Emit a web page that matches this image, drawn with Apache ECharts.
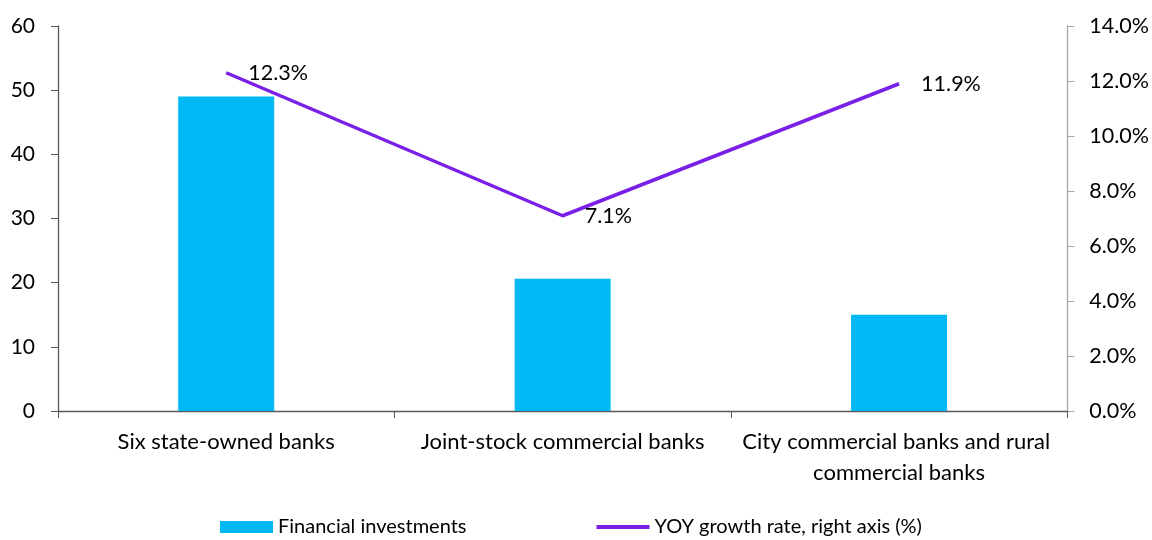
<!DOCTYPE html>
<html>
<head>
<meta charset="utf-8">
<script src="https://cdn.jsdelivr.net/npm/echarts@6/dist/echarts.min.js"></script>
<style>
  html, body { margin: 0; padding: 0; background: #ffffff; }
  #chart { width: 1152px; height: 540px; }
</style>
</head>
<body>
<div id="chart"></div>
<script>
// Bank groups on the category axis
const categories = [
  'Six state-owned banks',
  'Joint-stock commercial banks',
  'City commercial banks and rural commercial banks'
];
// Financial investments (left axis)
const financialInvestments = [49.0, 20.6, 15.0];
// Year-on-year growth rate, % (right axis)
const yoyGrowth = [12.3, 7.1, 11.9];
// Axis tick settings
const leftAxis = { min: 0, max: 60, interval: 10 };
const rightAxis = { min: 0, max: 14, interval: 2 };

const FONT = 'Lato';
const BAR_COLOR = '#00B8F4';
const LINE_COLOR = '#7A1FE6';
const chart = echarts.init(document.getElementById('chart'), null, { renderer: 'canvas' });

chart.setOption({
  animation: false,
  backgroundColor: '#ffffff',
  textStyle: { fontFamily: FONT, color: '#000000' },
  grid: { left: 58, right: 84, top: 26, bottom: 129, containLabel: false },
  legend: {
    bottom: -2,
    left: 215,
    itemGap: 130,
    itemWidth: 53,
    itemHeight: 12,
    symbolKeepAspect: true,
    textStyle: { fontFamily: FONT, fontSize: 20, color: '#000000' },
    data: [
      { name: 'Financial investments', icon: 'rect', itemStyle: { color: BAR_COLOR } },
      {
        name: 'YOY growth rate, right axis (%)',
        icon: 'path://M0,0 L53,0 L53,4 L0,4 Z',
        itemStyle: { color: LINE_COLOR }
      }
    ]
  },
  xAxis: {
    type: 'category',
    data: categories,
    axisLine: { lineStyle: { color: '#595959', width: 1.3 } },
    axisTick: { show: true, length: 7, lineStyle: { color: '#595959' } },
    axisLabel: {
      fontFamily: FONT,
      fontSize: 22,
      color: '#000000',
      margin: 15,
      lineHeight: 31,
      width: 325,
      overflow: 'break',
      interval: 0
    },
    splitLine: { show: false }
  },
  yAxis: [
    {
      type: 'value',
      min: leftAxis.min, max: leftAxis.max, interval: leftAxis.interval,
      axisLine: { show: true, lineStyle: { color: '#595959', width: 1.3 } },
      axisTick: { show: true, length: 7, lineStyle: { color: '#595959' } },
      axisLabel: { fontFamily: FONT, fontSize: 21, color: '#000000', margin: 23 },
      splitLine: { show: false }
    },
    {
      type: 'value',
      min: rightAxis.min, max: rightAxis.max, interval: rightAxis.interval,
      position: 'right',
      axisLine: { show: true, lineStyle: { color: '#A6A6A6', width: 1.3 } },
      axisTick: { show: true, length: 7, lineStyle: { color: '#A6A6A6' } },
      axisLabel: {
        fontFamily: FONT, fontSize: 21.5, color: '#000000', margin: 22,
        formatter: v => v.toFixed(1) + '%'
      },
      splitLine: { show: false }
    }
  ],
  series: [
    {
      name: 'Financial investments',
      type: 'bar',
      yAxisIndex: 0,
      data: financialInvestments,
      barWidth: 96,
      itemStyle: { color: BAR_COLOR }
    },
    {
      name: 'YOY growth rate, right axis (%)',
      type: 'line',
      yAxisIndex: 1,
      data: yoyGrowth,
      symbol: 'circle',
      symbolSize: 0.1,
      showSymbol: true,
      lineStyle: { color: LINE_COLOR, width: 3.5 },
      itemStyle: { color: LINE_COLOR },
      label: {
        show: true,
        position: 'right',
        distance: 22,
        fontFamily: FONT,
        fontSize: 21.5,
        color: '#000000',
        formatter: p => p.value.toFixed(1) + '%'
      }
    }
  ]
});
</script>
</body>
</html>
